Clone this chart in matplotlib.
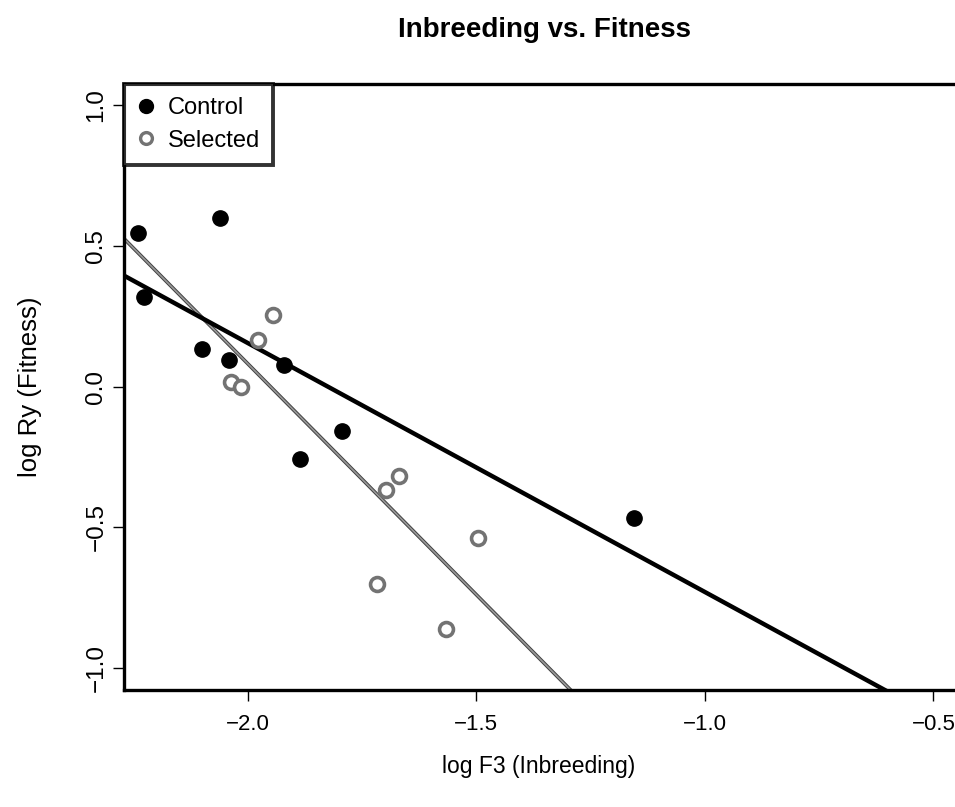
import numpy as np
import matplotlib
matplotlib.use("Agg")
import matplotlib.pyplot as plt
from matplotlib.lines import Line2D

plt.rcParams['font.family'] = ['Liberation Sans', 'DejaVu Sans']

# log F3 (Inbreeding) / log Ry (Fitness)
control_x = [-2.240, -2.227, -2.061, -2.100, -2.041, -1.921, -1.793, -1.886, -1.155]
control_y = [0.545, 0.318, 0.599, 0.133, 0.094, 0.076, -0.158, -0.258, -0.467]
selected_x = [-1.945, -1.978, -2.037, -2.015, -1.698, -1.669, -1.496, -1.717, -1.566]
selected_y = [0.254, 0.165, 0.016, -0.002, -0.368, -0.318, -0.538, -0.702, -0.861]

xticks = [-2.0, -1.5, -1.0, -0.5]
yticks = [-1.0, -0.5, 0.0, 0.5, 1.0]

fig = plt.figure(figsize=(9.55, 8.07), dpi=100)
# axes runs past the right edge of the figure, like the cropped original
ax = fig.add_axes([124 / 955, 117 / 807, 856 / 955, 606 / 807])
xlo, xhi = -2.271, -2.271 + 856 / 457
ylo, yhi = -1.078, 1.075
ax.set_xlim(xlo, xhi)
ax.set_ylim(ylo, yhi)

# fitted lines (lm) for each group
xx = np.array([xlo, xhi])
b_c = np.polyfit(control_x, control_y, 1)
b_s = np.polyfit(selected_x, selected_y, 1)
ax.plot(xx, np.polyval(b_s, xx), color='0.25', lw=2.6, zorder=2)
ax.plot(xx, np.polyval(b_s, xx), color='0.6', lw=1.2, zorder=2)
ax.plot(xx, np.polyval(b_c, xx), color='black', lw=3.2, zorder=2)

ax.plot(control_x, control_y, 'o', color='black', ms=11, zorder=3)
ax.plot(selected_x, selected_y, 'o', mfc='white', mec='0.45', mew=2.6, ms=10, zorder=3)

for s in ax.spines.values():
    s.set_linewidth(2.4)
ax.spines['right'].set_visible(False)

ax.set_xticks(xticks)
ax.set_xticklabels(['\u22122.0', '\u22121.5', '\u22121.0', '\u22120.5'])
ax.set_yticks(yticks)
ax.set_yticklabels(['\u22121.0', '\u22120.5', '0.0', '0.5', '1.0'], rotation=90, va='center')
ax.tick_params(direction='out', length=8, width=1)
ax.tick_params(axis='x', labelsize=16, pad=9)
ax.tick_params(axis='y', labelsize=17.5, pad=4)

fig.text(544 / 955, 1 - 30 / 807, 'Inbreeding vs. Fitness', ha='center', va='center',
         fontsize=20, fontweight='bold')
fig.text(539 / 955, 1 - 766 / 807, 'log F3 (Inbreeding)', ha='center', va='center', fontsize=16.5)
fig.text(30 / 955, 1 - 387 / 807, 'log Ry (Fitness)', ha='center', va='center',
         rotation=90, fontsize=18.5)

handles = [
    Line2D([], [], ls='none', marker='o', color='black', ms=10),
    Line2D([], [], ls='none', marker='o', mfc='white', mec='0.45', mew=2.4, ms=8.5),
]
leg = ax.legend(handles, ['Control', 'Selected'], loc='upper left', borderaxespad=0,
                fancybox=False, fontsize=17, handletextpad=0.5, handlelength=0.8,
                borderpad=0.55, labelspacing=0.45)
leg.get_frame().set_edgecolor('black')
leg.get_frame().set_linewidth(2.8)

fig.savefig('out.png', dpi=100)
